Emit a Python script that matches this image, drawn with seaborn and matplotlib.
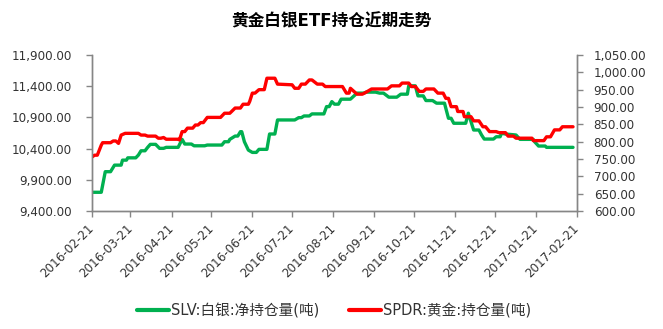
import matplotlib
matplotlib.use("Agg")
import matplotlib.pyplot as plt
import matplotlib.dates as mdates
from matplotlib.ticker import FuncFormatter
from matplotlib.lines import Line2D
import seaborn as sns
import pandas as pd

title = "黄金白银ETF持仓近期走势"
slv_label = "SLV:白银:净持仓量(吨)"
spdr_label = "SPDR:黄金:持仓量(吨)"

slv_dates = ["2016-02-21", "2016-02-28", "2016-03-02", "2016-03-06", "2016-03-09", "2016-03-14",
             "2016-03-15", "2016-03-18", "2016-03-19", "2016-03-25", "2016-03-27", "2016-03-29",
             "2016-04-01", "2016-04-03", "2016-04-05", "2016-04-09", "2016-04-12", "2016-04-15",
             "2016-04-17", "2016-04-26", "2016-04-29", "2016-05-01", "2016-05-06", "2016-05-08",
             "2016-05-16", "2016-05-18", "2016-05-29", "2016-05-31", "2016-06-03", "2016-06-04",
             "2016-06-08", "2016-06-10", "2016-06-12", "2016-06-13", "2016-06-15", "2016-06-18",
             "2016-06-21", "2016-06-24", "2016-06-26", "2016-07-02", "2016-07-04", "2016-07-08",
             "2016-07-10", "2016-07-23", "2016-07-26", "2016-07-28", "2016-07-30", "2016-08-03",
             "2016-08-05", "2016-08-14", "2016-08-16", "2016-08-18", "2016-08-20", "2016-08-22",
             "2016-08-25", "2016-08-27", "2016-09-03", "2016-09-08", "2016-09-13", "2016-09-15",
             "2016-09-22", "2016-09-25", "2016-09-28", "2016-10-02", "2016-10-08", "2016-10-11",
             "2016-10-16", "2016-10-17", "2016-10-22", "2016-10-24", "2016-10-28", "2016-10-30",
             "2016-11-04", "2016-11-07", "2016-11-13", "2016-11-14", "2016-11-16", "2016-11-18",
             "2016-11-20", "2016-11-29", "2016-12-01", "2016-12-03", "2016-12-05", "2016-12-09",
             "2016-12-11", "2016-12-13", "2016-12-20", "2016-12-22", "2016-12-25", "2016-12-26",
             "2016-12-29", "2017-01-06", "2017-01-09", "2017-01-19", "2017-01-20", "2017-01-23",
             "2017-01-28", "2017-01-29", "2017-02-18"]
slv_values = [9700, 9700, 10030, 10030, 10135, 10135,
              10215, 10215, 10252, 10252, 10296, 10365,
              10365, 10420, 10468, 10468, 10404, 10404,
              10420, 10420, 10548, 10473, 10473, 10445,
              10445, 10457, 10457, 10510, 10510, 10548,
              10601, 10601, 10671, 10671, 10510, 10376,
              10339, 10339, 10388, 10388, 10634, 10634,
              10859, 10859, 10896, 10896, 10923, 10923,
              10956, 10956, 11073, 11073, 11153, 11112,
              11112, 11192, 11192, 11289, 11289, 11305,
              11305, 11289, 11289, 11224, 11224, 11272,
              11272, 11406, 11406, 11245, 11245, 11170,
              11170, 11128, 11128, 11047, 10886, 10886,
              10806, 10806, 10967, 10832, 10698, 10698,
              10618, 10553, 10553, 10590, 10590, 10645,
              10634, 10618, 10548, 10548, 10510, 10441,
              10441, 10420, 10420]

spdr_dates = ["2016-02-21", "2016-02-23", "2016-02-25", "2016-02-28", "2016-02-29", "2016-03-06",
              "2016-03-08", "2016-03-10", "2016-03-12", "2016-03-14", "2016-03-17", "2016-03-27",
              "2016-03-29", "2016-04-01", "2016-04-03", "2016-04-09", "2016-04-11", "2016-04-13",
              "2016-04-15", "2016-04-17", "2016-04-26", "2016-04-27", "2016-04-29", "2016-05-01",
              "2016-05-03", "2016-05-07", "2016-05-09", "2016-05-11", "2016-05-13", "2016-05-15",
              "2016-05-18", "2016-05-28", "2016-05-31", "2016-06-04", "2016-06-08", "2016-06-12",
              "2016-06-14", "2016-06-18", "2016-06-19", "2016-06-21", "2016-06-23", "2016-06-26",
              "2016-06-30", "2016-07-02", "2016-07-08", "2016-07-10", "2016-07-21", "2016-07-23",
              "2016-07-26", "2016-07-28", "2016-07-31", "2016-08-03", "2016-08-05", "2016-08-09",
              "2016-08-13", "2016-08-15", "2016-08-28", "2016-08-31", "2016-09-02", "2016-09-03",
              "2016-09-08", "2016-09-12", "2016-09-15", "2016-09-19", "2016-10-01", "2016-10-04",
              "2016-10-10", "2016-10-12", "2016-10-17", "2016-10-19", "2016-10-22", "2016-10-25",
              "2016-10-28", "2016-10-30", "2016-11-05", "2016-11-08", "2016-11-12", "2016-11-14",
              "2016-11-16", "2016-11-18", "2016-11-22", "2016-11-23", "2016-11-27", "2016-11-28",
              "2016-12-03", "2016-12-05", "2016-12-09", "2016-12-12", "2016-12-14", "2016-12-17",
              "2016-12-22", "2016-12-24", "2016-12-29", "2016-12-31", "2017-01-04", "2017-01-06",
              "2017-01-18", "2017-01-19", "2017-01-27", "2017-01-29", "2017-02-01", "2017-02-04",
              "2017-02-08", "2017-02-10", "2017-02-18"]
spdr_values = [756, 761, 761, 790, 797, 797,
               802, 802, 795, 819, 824, 824,
               819, 819, 816, 816, 810, 810,
               812, 807, 807, 805, 829, 829,
               839, 839, 848, 848, 855, 855,
               870, 870, 882, 882, 897, 897,
               908, 908, 916, 940, 940, 950,
               950, 983, 983, 966, 964, 954,
               954, 966, 966, 978, 978, 966,
               966, 959, 959, 940, 940, 954,
               937, 937, 943, 952, 952, 961,
               961, 969, 969, 959, 959, 945,
               945, 952, 952, 940, 940, 925,
               925, 901, 901, 887, 887, 872,
               872, 860, 860, 843, 843, 829,
               829, 826, 826, 816, 816, 810,
               810, 803, 803, 814, 814, 834,
               834, 843, 843]

x_ticks = ["2016-02-21", "2016-03-21", "2016-04-21", "2016-05-21", "2016-06-21", "2016-07-21",
           "2016-08-21", "2016-09-21", "2016-10-21", "2016-11-21", "2016-12-21", "2017-01-21",
           "2017-02-21"]
left_ticks = [9400, 9900, 10400, 10900, 11400, 11900]
right_ticks = [600, 650, 700, 750, 800, 850, 900, 950, 1000, 1050]

sns.set_style("white")
plt.rcParams["font.family"] = ["DejaVu Sans", "Noto Sans CJK SC"]

green = "#00B050"
red = "#FF0000"
axis_gray = "#868686"
text_color = "#333333"

fig = plt.figure(figsize=(6.63, 3.29), dpi=100)
ax = fig.add_axes([92 / 663, 118 / 329, 485 / 663, 156 / 329])
ax2 = ax.twinx()

slv_df = pd.DataFrame({"date": pd.to_datetime(slv_dates), "value": slv_values})
spdr_df = pd.DataFrame({"date": pd.to_datetime(spdr_dates), "value": spdr_values})

sns.lineplot(data=slv_df, x="date", y="value", ax=ax, color=green, linewidth=2.4)
sns.lineplot(data=spdr_df, x="date", y="value", ax=ax2, color=red, linewidth=2.4)

ax.set_xlim(pd.Timestamp("2016-02-21"), pd.Timestamp("2017-02-21"))
ax.set_ylim(left_ticks[0], left_ticks[-1])
ax2.set_ylim(right_ticks[0], right_ticks[-1])
ax.set_yticks(left_ticks)
ax2.set_yticks(right_ticks)
fmt = FuncFormatter(lambda v, p: f"{v:,.2f}")
ax.yaxis.set_major_formatter(fmt)
ax2.yaxis.set_major_formatter(fmt)

ax.set_xticks(pd.to_datetime(x_ticks))
ax.xaxis.set_major_formatter(mdates.DateFormatter("%Y-%m-%d"))

for a in (ax, ax2):
    a.set_xlabel("")
    a.set_ylabel("")
    a.spines["top"].set_visible(False)
    for s in ("left", "right", "bottom"):
        a.spines[s].set_color(axis_gray)
        a.spines[s].set_linewidth(1.0)
    a.grid(False)

ax.tick_params(axis="y", which="major", length=4, width=1, color=axis_gray,
               direction="out", left=True, pad=10.5, labelsize=8.6, labelcolor=text_color)
ax2.tick_params(axis="y", which="major", length=4, width=1, color=axis_gray,
                direction="out", right=True, pad=8, labelsize=8.6, labelcolor=text_color)
ax.tick_params(axis="x", which="major", length=4, width=1, color=axis_gray,
               direction="out", bottom=True, pad=7, labelsize=8.6, labelcolor=text_color)
for lbl in ax.get_xticklabels():
    lbl.set_rotation(45)
    lbl.set_ha("right")
    lbl.set_va("center")
    lbl.set_rotation_mode("anchor")

fig.text(0.5, 1 - 21 / 329, title, ha="center", va="center", fontsize=12,
         fontweight="bold", color="#000000",
         family=["DejaVu Sans", "Noto Sans CJK SC"])

handles = [Line2D([0], [0], color=green, linewidth=3),
           Line2D([0], [0], color=red, linewidth=3)]
fig.legend(handles, [slv_label, spdr_label], loc="center",
           bbox_to_anchor=(0.504, 18 / 329), ncol=2, frameon=False,
           fontsize=10.5, handlelength=2.2, handletextpad=0.15, columnspacing=2.0,
           labelcolor=text_color)

fig.savefig("out.png", dpi=100)
